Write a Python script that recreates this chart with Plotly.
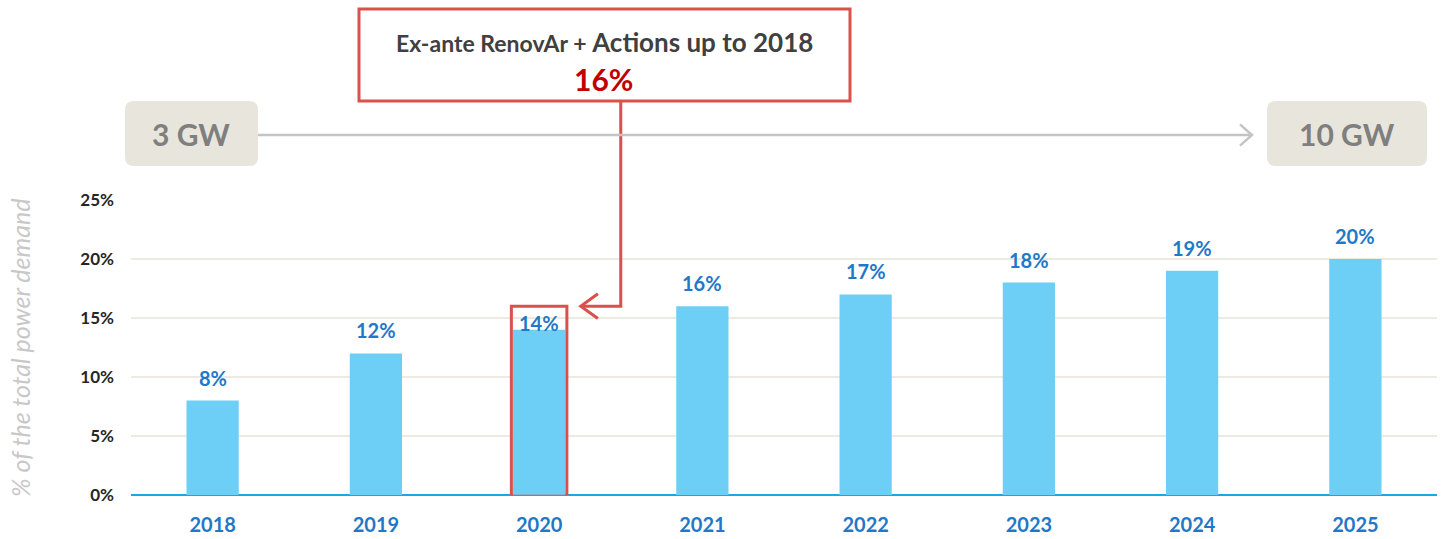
import plotly.graph_objects as go

years = ["2018", "2019", "2020", "2021", "2022", "2023", "2024", "2025"]
share = [8, 12, 14, 16, 17, 18, 19, 20]
value_labels = ["8%", "12%", "14%", "16%", "17%", "18%", "19%", "20%"]
y_ticks = [0, 5, 10, 15, 20, 25]
y_tick_text = ["0%", "5%", "10%", "15%", "20%", "25%"]
highlight_year = "2020"
exante_value = 16
box_line1 = "Ex-ante RenovAr + "
box_line1b = "Actions up to 2018"
box_value = "16%"
start_cap = "3 GW"
end_cap = "10 GW"
y_title = "% of the total power demand"

FONT = "Lato"
BAR = "#6DCFF6"
BLUE_TXT = "#1F78C8"
RED = "#D8524B"
GRAY_BOX = "#E8E6DC"

fig = go.Figure()
fig.add_trace(go.Bar(x=years, y=share, marker=dict(color=BAR, line=dict(width=0)),
                     width=0.32, hoverinfo="skip"))

# value labels
hi = years.index(highlight_year)
for i, (v, lab) in enumerate(zip(share, value_labels)):
    fig.add_annotation(x=i, y=v, xref="x", yref="y", text=f"<b>{lab}</b>", showarrow=False,
                       xanchor="center", yanchor="middle", yshift=(7 if i == hi else 23),
                       font=dict(family=FONT, size=20, color=BLUE_TXT))

# highlight rectangle around bar
fig.add_shape(type="rect", xref="x", yref="y", x0=hi - 0.17, x1=hi + 0.17,
              y0=-0.1, y1=exante_value, line=dict(color=RED, width=3),
              fillcolor="rgba(0,0,0,0)", layer="above")

ymax = 25.0
def py(px):
    return (495 - px) / 295.0
def pxx(px):
    return (px - 131) / 1306.0

def label(x, y, text, size, color, **kw):
    fig.add_annotation(xref="paper", yref="paper", x=x, y=y, showarrow=False,
                       xanchor="center", yanchor="middle", text=text,
                       font=dict(family=FONT, size=size, color=color), **kw)

# callout box
fig.add_shape(type="rect", xref="paper", yref="paper", x0=pxx(359), x1=pxx(850),
              y0=py(101), y1=py(9), line=dict(color=RED, width=3), fillcolor="white")
label(pxx(604), py(42),
      f"<b>{box_line1}</b><span style='font-size:26px'><b>{box_line1b}</b></span>",
      23, "#404040")
label(pxx(603), py(79), f"<b>{box_value}</b>", 30, "#C00000")

# connector
yc = exante_value / ymax
fig.add_shape(type="path", xref="x", yref="paper",
              path=f"M 2.5,{py(101)} L 2.5,{yc} L 2.26,{yc}",
              line=dict(color=RED, width=3))
fig.add_shape(type="path", xref="x", yref="paper",
              path=f"M 2.36,{yc + 0.042} L 2.255,{yc} L 2.36,{yc - 0.042}",
              line=dict(color=RED, width=3))

# gray timeline
ya = py(135)
fig.add_shape(type="line", xref="paper", yref="paper", x0=pxx(258), x1=pxx(1251),
              y0=ya, y1=ya, line=dict(color="#C4C4C4", width=2.5))
fig.add_shape(type="path", xref="paper", yref="paper",
              path=f"M {pxx(1240)},{ya + 0.036} L {pxx(1252)},{ya} L {pxx(1240)},{ya - 0.036}",
              line=dict(color="#C4C4C4", width=2.5))

def rrect(x0, x1, y0, y1, r=9):
    X0, X1 = pxx(x0), pxx(x1)
    Y0, Y1 = py(y1), py(y0)
    rx, ry = r / 1306.0, r / 295.0
    return (f"M {X0+rx},{Y1} L {X1-rx},{Y1} Q {X1},{Y1} {X1},{Y1-ry} "
            f"L {X1},{Y0+ry} Q {X1},{Y0} {X1-rx},{Y0} L {X0+rx},{Y0} "
            f"Q {X0},{Y0} {X0},{Y0+ry} L {X0},{Y1-ry} Q {X0},{Y1} {X0+rx},{Y1} Z")

fig.add_shape(type="path", xref="paper", yref="paper", path=rrect(125, 258, 101, 166),
              fillcolor=GRAY_BOX, line=dict(width=0))
fig.add_shape(type="path", xref="paper", yref="paper", path=rrect(1267, 1427, 101, 166),
              fillcolor=GRAY_BOX, line=dict(width=0))
label(pxx(191), py(134), f"<b>{start_cap}</b>", 30, "#7F7F7F")
label(pxx(1347), py(134), f"<b>{end_cap}</b>", 30, "#7F7F7F")

# y title
label(pxx(20), py(348), f"<i>{y_title}</i>", 25, "#C8C8C8", textangle=-90)

fig.update_layout(
    width=1441, height=539,
    margin=dict(l=131, r=4, t=200, b=44),
    plot_bgcolor="white", paper_bgcolor="white",
    showlegend=False, bargap=0.68,
    font=dict(family=FONT),
)
fig.update_xaxes(type="category", range=[-0.5, 7.5], showgrid=False, showline=False,
                 ticks="", ticklabelstandoff=16,
                 tickfont=dict(family=FONT, size=20, color=BLUE_TXT, weight="bold"))
fig.update_yaxes(range=[0, ymax], tickvals=y_ticks, ticktext=y_tick_text,
                 showgrid=True, gridcolor="#ECEAE1", gridwidth=1.5,
                 zeroline=True, zerolinecolor="#19A7E8", zerolinewidth=2,
                 showline=False, ticks="", ticklabelstandoff=16,
                 tickfont=dict(family=FONT, size=17, color="#262626", weight="bold"))

fig.write_html("out.html")
